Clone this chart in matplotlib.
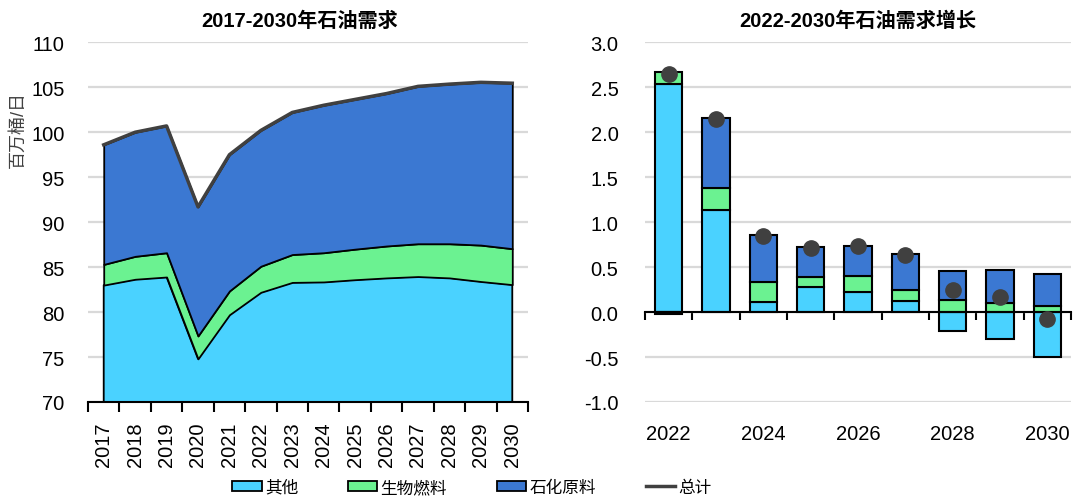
import matplotlib
matplotlib.use("Agg")
import matplotlib.pyplot as plt
import numpy as np
from matplotlib.patches import Patch
from matplotlib.lines import Line2D

plt.rcParams['font.family'] = ['Liberation Sans', 'Noto Sans CJK SC', 'DejaVu Sans']

# ---------------- data ----------------
years_left = ['2017', '2018', '2019', '2020', '2021', '2022', '2023',
              '2024', '2025', '2026', '2027', '2028', '2029', '2030']
others_left = [83.0, 83.65, 83.9, 74.8, 79.7, 82.2, 83.3, 83.35, 83.6, 83.8, 83.95, 83.8, 83.4, 83.05]
biofuel_left = [2.3, 2.55, 2.7, 2.55, 2.65, 2.9, 3.1, 3.25, 3.4, 3.55, 3.65, 3.8, 4.05, 4.0]
petchem_left = [13.3, 13.8, 14.1, 14.35, 15.15, 15.1, 15.8, 16.4, 16.65, 16.95, 17.5, 17.75, 18.1, 18.4]
total_left = [98.6, 100.0, 100.7, 91.7, 97.5, 100.2, 102.2, 103.0, 103.65, 104.3, 105.1, 105.35, 105.55, 105.45]

years_right = ['2022', '2023', '2024', '2025', '2026', '2027', '2028', '2029', '2030']
others_right = [2.54, 1.13, 0.11, 0.28, 0.22, 0.12, -0.21, -0.30, -0.50]
biofuel_right = [0.13, 0.25, 0.22, 0.11, 0.18, 0.12, 0.13, 0.10, 0.07]
petchem_right = [-0.02, 0.78, 0.53, 0.33, 0.34, 0.41, 0.33, 0.37, 0.35]
total_right = [2.65, 2.15, 0.85, 0.71, 0.74, 0.64, 0.24, 0.17, -0.08]

series_names = ['其他', '生物燃料', '石化原料']
total_name = '总计'
title_left = '2017-2030年石油需求'
title_right = '2022-2030年石油需求增长'
ylabel_left = '百万桶/日'

# ---------------- style ----------------
c_others = '#4AD2FF'
c_bio = '#6BF291'
c_pet = '#3B78D2'
c_total = '#404040'
grid_c = '#D9D9D9'
tick_fs = 14.5

W, H = 1073, 502
fig = plt.figure(figsize=(W / 100, H / 100), dpi=100)

def ax_rect(x0, x1, ytop, ybot):
    return [x0 / W, (H - ybot) / H, (x1 - x0) / W, (ybot - ytop) / H]

# ---------------- left chart ----------------
axL = fig.add_axes(ax_rect(88, 528, 43.3, 403))
xl = np.arange(len(years_left))
axL.stackplot(xl, others_left, biofuel_left, petchem_left,
              colors=[c_others, c_bio, c_pet], edgecolor='black', linewidth=1.3, zorder=2)
axL.plot(xl, total_left, color=c_total, lw=2.5, zorder=3, solid_joinstyle='round')
axL.set_xlim(-0.5, len(years_left) - 0.5)
axL.set_ylim(70, 110)
axL.set_yticks(np.arange(70, 111, 5))
axL.set_yticklabels([str(v) for v in range(70, 111, 5)])
axL.grid(axis='y', color=grid_c, lw=1.6, zorder=0)
axL.set_axisbelow(True)
for s in ['left', 'right', 'top']:
    axL.spines[s].set_visible(False)
axL.spines['bottom'].set_linewidth(1.5)
axL.spines['bottom'].set_zorder(4)
axL.set_xticks(xl)
axL.set_xticklabels(years_left, rotation=90)
axL.set_xticks(np.arange(-0.5, len(years_left), 1.0), minor=True)
axL.tick_params(axis='x', which='major', length=0, pad=14, labelsize=tick_fs)
axL.tick_params(axis='x', which='minor', length=7, width=1.5, direction='out')
axL.tick_params(axis='y', length=0, pad=17, labelsize=tick_fs)
axL.set_title(title_left, fontsize=14.5, fontweight='bold', pad=12, x=0.48)
fig.text(18 / W, 1 - 130 / H, ylabel_left, rotation=90, ha='center', va='center',
         fontsize=13, color='#404040')

# ---------------- right chart ----------------
axR = fig.add_axes(ax_rect(645, 1071, 43.3, 403))
xr = np.arange(len(years_right))
pos_base = np.zeros(len(xr))
neg_base = np.zeros(len(xr))
bw = 0.58
for vals, col in [(others_right, c_others), (biofuel_right, c_bio), (petchem_right, c_pet)]:
    v = np.array(vals, dtype=float)
    bottoms = np.where(v >= 0, pos_base, neg_base)
    axR.bar(xr, v, bw, bottom=bottoms, color=col, edgecolor='black', linewidth=1.5, zorder=2)
    pos_base = pos_base + np.where(v >= 0, v, 0)
    neg_base = neg_base + np.where(v < 0, v, 0)
axR.plot(xr, total_right, 'o', color=c_total, ms=11, zorder=4, linestyle='none')
axR.set_xlim(-0.5, len(years_right) - 0.5)
axR.set_ylim(-1.0, 3.0)
axR.set_yticks(np.arange(-1.0, 3.01, 0.5))
axR.set_yticklabels(['%.1f' % v for v in np.arange(-1.0, 3.01, 0.5)])
axR.grid(axis='y', color=grid_c, lw=1.6, zorder=0)
axR.set_axisbelow(True)
for s in ['left', 'right', 'top']:
    axR.spines[s].set_visible(False)
axR.spines['bottom'].set_position(('data', 0))
axR.spines['bottom'].set_linewidth(1.5)
axR.spines['bottom'].set_zorder(3)
axR.set_xticks(np.arange(-0.5, len(years_right), 1.0))
axR.set_xticklabels([])
axR.tick_params(axis='x', length=6, width=1.5, direction='out')
axR.tick_params(axis='y', length=0, pad=19, labelsize=tick_fs)
sec = axR.secondary_xaxis('bottom')
sec.set_xticks(xr[::2])
sec.set_xticklabels(years_right[::2])
sec.tick_params(length=0, pad=16, labelsize=tick_fs)
sec.spines['bottom'].set_visible(False)
axR.set_title(title_right, fontsize=14.5, fontweight='bold', pad=12)

# ---------------- legend ----------------
handles = [Patch(facecolor=c, edgecolor='black', linewidth=1.3) for c in [c_others, c_bio, c_pet]]
handles.append(Line2D([0], [0], color=c_total, lw=2.5))
fig.legend(handles, series_names + [total_name], loc='center', bbox_to_anchor=(0.44, 0.028),
           ncol=4, frameon=False, fontsize=12, handlelength=1.75, handleheight=0.55,
           handletextpad=0.2, columnspacing=3.0)

fig.savefig('out.png', dpi=100)
